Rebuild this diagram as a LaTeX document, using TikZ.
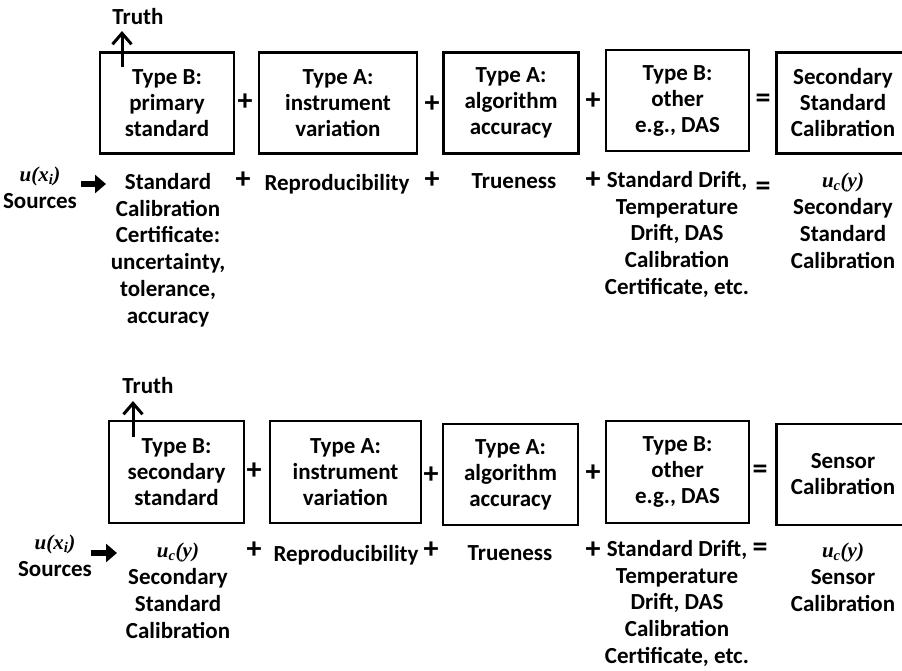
\documentclass[tikz,border=0pt]{standalone}
\usepackage{fontspec}
\setmainfont{Carlito}
\newfontfamily\ufont{Liberation Serif}
\usetikzlibrary{arrows.meta}
\newcommand{\ux}{{\ufont\bfseries\itshape\fontsize{21}{26.8}\selectfont u(x\textsubscript{i})}}
\newcommand{\ucy}{{\ufont\bfseries\itshape\fontsize{21}{26.8}\selectfont u\textsubscript{c}(y)}}
\begin{document}
\begin{tikzpicture}[x=1pt,y=-1pt,
 box/.style={draw,line width=2.8pt,inner sep=0pt,align=center,font=\bfseries\fontsize{23}{26}\selectfont},
 lbl/.style={inner sep=0pt,align=center,font=\bfseries\fontsize{23}{26.8}\selectfont},
 op/.style={inner sep=0pt,font=\bfseries\fontsize{30}{30}\selectfont},
 bigarrow/.style={line width=6pt,-{Triangle[length=11pt,width=18pt]}},
 truthar/.style={line width=3pt,-{Straight Barb[length=11pt,width=19pt]}}]
\useasboundingbox (0,0) rectangle (902,671);
\clip (0,0) rectangle (902,671);
\fill[white] (0,0) rectangle (902,671);

% ---------- upper equation ----------
\node[box,minimum width=134pt,minimum height=101pt] (b1) at (167,103) {Type B:\\primary\\standard};
\node[box,minimum width=158pt,minimum height=101pt] (b2) at (338,103) {Type A:\\instrument\\variation};
\node[box,minimum width=135pt,minimum height=101pt] (b3) at (511,103) {Type A:\\algorithm\\accuracy};
\node[box,minimum width=143pt,minimum height=101pt] (b4) at (677.5,100.5) {Type B:\\other\\e.g., DAS};
\node[box,minimum width=133pt,minimum height=101pt] (b5) at (843,103) {Secondary\\Standard\\Calibration};
\node[op] (p1) at (245,102) {+};
\node[op] (p2) at (432,104) {+};
\node[op] (p3) at (593,101) {+};
\node[op] (e1) at (763,101) {=};

\node[lbl] (truth1) at (138,17) {Truth};
\coordinate (t1a) at (122,67);
\coordinate (t1b) at (122,31);
\draw[truthar] (t1a) -- (t1b);

\node[lbl] (src1) at (40,188) {\ux\\Sources};
\coordinate (a1a) at (81,184);
\coordinate (a1b) at (106,184);
\draw[bigarrow] (a1a) -- (a1b);

\node[lbl,anchor=north] (s1) at (168,173) {Standard\\Calibration\\Certificate:\\uncertainty,\\tolerance,\\accuracy};
\node[op] (q1) at (243,180) {+};
\node[lbl,anchor=north] (s2) at (337,174) {Reproducibility};
\node[op] (q2) at (432,180) {+};
\node[lbl,anchor=north] (s3) at (514,173) {Trueness};
\node[op] (q3) at (593,180) {+};
\node[lbl,anchor=north] (s4) at (677,171) {Standard Drift,\\Temperature\\Drift, DAS\\Calibration\\Certificate, etc.};
\node[op] (f1) at (763,189) {=};
\node[lbl,anchor=north] (s5) at (843,173) {\ucy\\Secondary\\Standard\\Calibration};

% ---------- lower equation ----------
\node[box,minimum width=135pt,minimum height=102pt] (c1) at (176.5,472) {Type B:\\secondary\\standard};
\node[box,minimum width=151pt,minimum height=102pt] (c2) at (345.5,472) {Type A:\\instrument\\variation};
\node[box,minimum width=135pt,minimum height=101pt] (c3) at (510.5,474.5) {Type A:\\algorithm\\accuracy};
\node[box,minimum width=143pt,minimum height=102pt] (c4) at (677.5,472) {Type B:\\other\\e.g., DAS};
\node[box,minimum width=133pt,minimum height=101pt] (c5) at (843,474.5) {Sensor\\Calibration};
\node[op] (p4) at (254,471) {+};
\node[op] (p5) at (431,475) {+};
\node[op] (p6) at (593,473) {+};
\node[op] (e2) at (760,472) {=};

\node[lbl] (truth2) at (148,386) {Truth};
\coordinate (t2a) at (133,437);
\coordinate (t2b) at (133,401);
\draw[truthar] (t2a) -- (t2b);

\node[lbl] (src2) at (55,556) {\ux\\Sources};
\coordinate (a2a) at (91,553);
\coordinate (a2b) at (117,553);
\draw[bigarrow] (a2a) -- (a2b);

\node[lbl,anchor=north] (r1) at (178,543) {\ucy\\Secondary\\Standard\\Calibration};
\node[op] (q4) at (254,550) {+};
\node[lbl,anchor=north] (r2) at (346,545) {Reproducibility};
\node[op] (q5) at (431,550) {+};
\node[lbl,anchor=north] (r3) at (510,545) {Trueness};
\node[op] (q6) at (593,550) {+};
\node[lbl,anchor=north] (r4) at (677,540) {Standard Drift,\\Temperature\\Drift, DAS\\Calibration\\Certificate, etc.};
\node[op] (f2) at (760,550) {=};
\node[lbl,anchor=north] (r5) at (843,543) {\ucy\\Sensor\\Calibration};
\end{tikzpicture}
\end{document}
